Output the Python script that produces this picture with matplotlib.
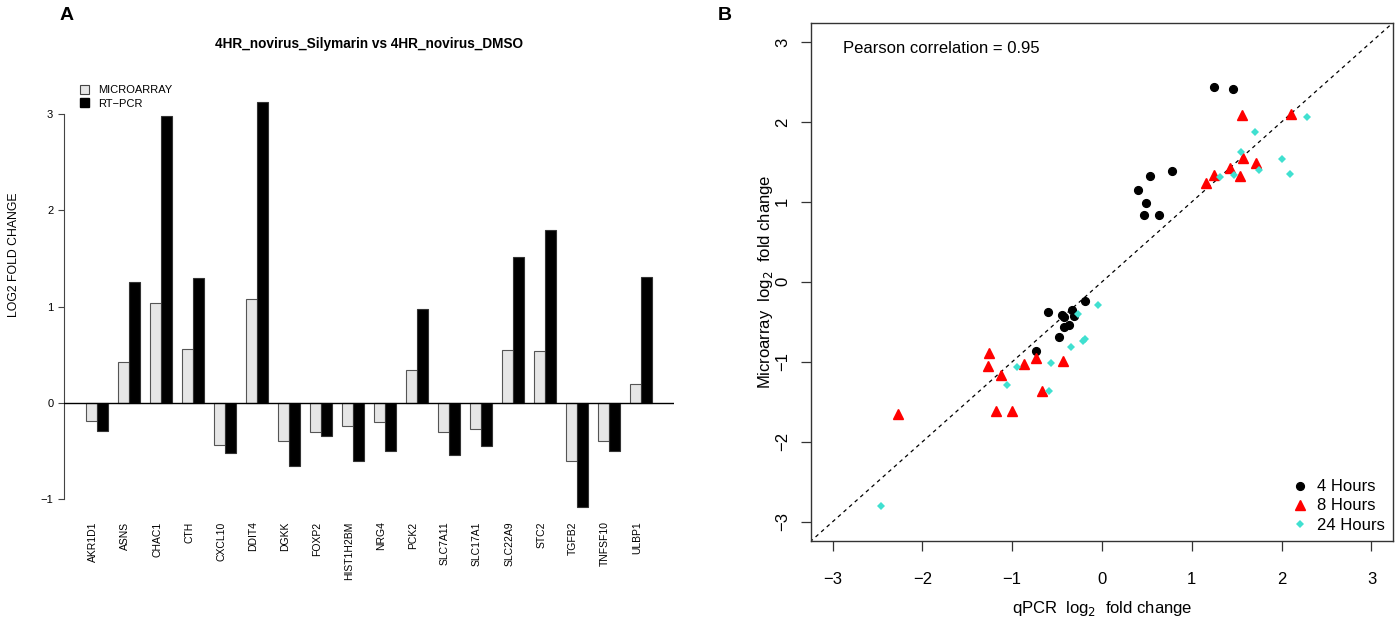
import matplotlib
matplotlib.use("Agg")
import matplotlib.pyplot as plt
import matplotlib.transforms as mtransforms
import numpy as np
from matplotlib.lines import Line2D
from matplotlib.patches import Patch

plt.rcParams["font.family"] = ["Liberation Sans", "DejaVu Sans"]
plt.rcParams["axes.unicode_minus"] = True

# Panel A data
GENES = ["AKR1D1", "ASNS", "CHAC1", "CTH", "CXCL10", "DDIT4", "DGKK", "FOXP2",
         "HIST1H2BM", "NRG4", "PCK2", "SLC7A11", "SLC17A1", "SLC22A9", "STC2",
         "TGFB2", "TNFSF10", "ULBP1"]
MICROARRAY = [-0.19, 0.43, 1.04, 0.56, -0.44, 1.08, -0.39, -0.30,
              -0.24, -0.20, 0.34, -0.30, -0.27, 0.55, 0.54,
              -0.60, -0.40, 0.20]
RT_PCR = [-0.29, 1.26, 2.98, 1.30, -0.52, 3.13, -0.65, -0.34,
          -0.60, -0.50, 0.98, -0.54, -0.45, 1.52, 1.80,
          -1.08, -0.50, 1.31]

# Panel B data (qPCR x, microarray y)
H4_X = [1.25, 1.46, 0.78, 0.53, 0.40, 0.49, 0.47, 0.63,
        -0.19, -0.33, -0.31, -0.60, -0.44, -0.42, -0.42, -0.37, -0.48, -0.74]
H4_Y = [2.44, 2.41, 1.39, 1.32, 1.15, 0.99, 0.83, 0.84,
        -0.24, -0.35, -0.43, -0.38, -0.41, -0.44, -0.56, -0.54, -0.69, -0.87]
H8_X = [1.56, 2.10, 1.57, 1.72, 1.42, 1.25, 1.16, 1.54,
        -1.26, -1.27, -1.12, -0.87, -0.74, -0.43, -0.67, -1.18, -1.00, -2.27]
H8_Y = [2.08, 2.10, 1.55, 1.49, 1.42, 1.33, 1.24, 1.32,
        -0.89, -1.05, -1.17, -1.03, -0.95, -0.99, -1.36, -1.62, -1.62, -1.65]
H24_X = [2.28, 1.70, 1.55, 2.00, 1.75, 2.09, 1.47, 1.31,
         -0.27, -0.04, -0.21, -0.19, -0.35, -0.57, -0.95, -1.06, -0.59, -2.46]
H24_Y = [2.06, 1.87, 1.62, 1.53, 1.40, 1.35, 1.33, 1.31,
         -0.40, -0.29, -0.74, -0.71, -0.81, -1.01, -1.07, -1.29, -1.36, -2.80]
PEARSON = 0.95

W, H = 14.0, 6.23
fig = plt.figure(figsize=(W, H), dpi=100)


def px_rect(left, top, right, bottom):
    return [left / 1400, 1 - bottom / 623, (right - left) / 1400, (bottom - top) / 623]


# ---------------- Panel A ----------------
ax_a = fig.add_axes(px_rect(63.7, 85.2, 674.4, 508.9))
n = len(GENES)
left_micro = 1 + 3 * np.arange(n)
ax_a.bar(left_micro, MICROARRAY, width=1, align="edge", color="#e6e6e6",
         edgecolor="#555555", linewidth=0.8, zorder=2)
ax_a.bar(left_micro + 1, RT_PCR, width=1, align="edge", color="black",
         edgecolor="#333333", linewidth=0.8, zorder=2)
ax_a.axhline(0, color="black", linewidth=1.0, zorder=3)
ax_a.set_xlim(-1.12, 56.12)
ax_a.set_ylim(-1.1, 3.3)
for s in ["top", "right", "bottom"]:
    ax_a.spines[s].set_visible(False)
ax_a.spines["left"].set_bounds(-1, 3)
ax_a.spines["left"].set_color("#444444")
ax_a.set_yticks([-1, 0, 1, 2, 3])
ax_a.tick_params(axis="y", labelsize=8, length=4.5, width=0.8, color="#444444", pad=3)
ax_a.set_xticks(left_micro + 1)
ax_a.set_xticklabels(GENES, rotation=90, fontsize=7.5, va="top", ha="center")
ax_a.tick_params(axis="x", length=0, pad=9)
shift = mtransforms.ScaledTranslation(-4 / 100, 0, fig.dpi_scale_trans)
for lbl in ax_a.get_xticklabels():
    lbl.set_transform(lbl.get_transform() + shift)

fig.text(369 / 1400, 1 - 44 / 623, "4HR_novirus_Silymarin vs 4HR_novirus_DMSO",
         ha="center", va="center", fontsize=9.8, fontweight="bold")
fig.text(14 / 1400, 1 - 255 / 623, "LOG2 FOLD CHANGE", rotation=90,
         ha="center", va="center", fontsize=8.8)
handles_a = [Patch(facecolor="#e6e6e6", edgecolor="#444444", linewidth=0.8, label="MICROARRAY"),
             Patch(facecolor="black", edgecolor="black", label="RT\u2212PCR")]
ax_a.legend(handles=handles_a, loc="upper left", bbox_to_anchor=(80 / 1400, 1 - 85 / 623),
            bbox_transform=fig.transFigure, frameon=False, fontsize=8,
            handlelength=0.8, handleheight=0.8, handletextpad=0.8, labelspacing=0.3,
            borderaxespad=0, borderpad=0)
fig.text(67 / 1400, 1 - 15 / 623, "A", ha="center", va="center", fontsize=14, fontweight="bold")

# ---------------- Panel B ----------------
ax_b = fig.add_axes(px_rect(811, 22.7, 1393, 541))
ax_b.set_xlim(-3.24, 3.24)
ax_b.set_ylim(-3.24, 3.24)
ax_b.plot([-4, 4], [-4, 4], color="black", linewidth=0.9, linestyle=(0, (3, 3)), zorder=1)
ax_b.plot(H4_X, H4_Y, linestyle="none", marker="o", color="black", markersize=5.6, zorder=3)
ax_b.plot(H8_X, H8_Y, linestyle="none", marker="^", color="red", markersize=6.6, zorder=4)
ax_b.plot(H24_X, H24_Y, linestyle="none", marker="D", color="#40e0d0", markersize=3.8,
          markeredgewidth=0, zorder=5)
for s in ax_b.spines.values():
    s.set_linewidth(1.0)
    s.set_color("#333333")
ax_b.set_xticks(np.arange(-3, 4))
ax_b.set_yticks(np.arange(-3, 4))
ax_b.tick_params(axis="both", labelsize=12, length=7, width=0.9, color="#333333")
ax_b.tick_params(axis="x", pad=15)
ax_b.tick_params(axis="y", pad=8)
for lbl in ax_b.get_yticklabels():
    lbl.set_rotation(90)
    lbl.set_va("center")
ax_b.set_xlabel("qPCR  log$_2$  fold change", fontsize=12, labelpad=9)
ax_b.set_ylabel("Microarray  log$_2$  fold change", fontsize=12, labelpad=0)
ax_b.text(0.055, 0.965, f"Pearson correlation = {PEARSON}", transform=ax_b.transAxes,
          ha="left", va="top", fontsize=12)
handles_b = [Line2D([], [], linestyle="none", marker="o", color="black", markersize=5.6, label="4 Hours"),
             Line2D([], [], linestyle="none", marker="^", color="red", markersize=6.6, label="8 Hours"),
             Line2D([], [], linestyle="none", marker="D", color="#40e0d0", markersize=3.8,
                    markeredgewidth=0, label="24 Hours")]
ax_b.legend(handles=handles_b, loc="lower right", frameon=False, fontsize=12,
            handlelength=1.0, handletextpad=0.5, labelspacing=0.25,
            borderaxespad=0.3, borderpad=0.2)
fig.text(725 / 1400, 1 - 15 / 623, "B", ha="center", va="center", fontsize=14, fontweight="bold")

fig.savefig("out.png", dpi=100, facecolor="white")
